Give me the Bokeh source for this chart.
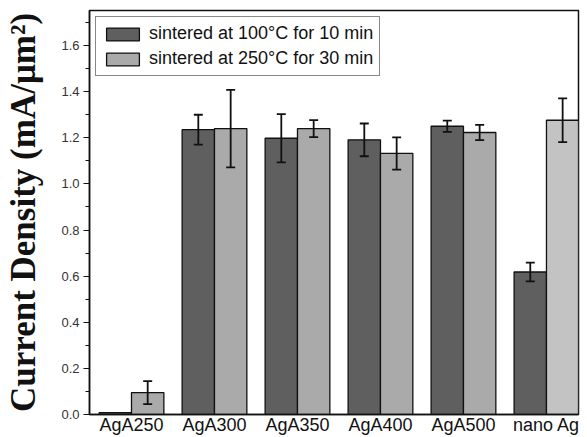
import numpy as np
from bokeh.plotting import figure
from bokeh.models import (ColumnDataSource, Range1d, FixedTicker, Whisker,
                          TeeHead, Legend, LegendItem)
from bokeh.embed import file_html
from bokeh.resources import INLINE

# ---- data ----
categories = ["AgA250", "AgA300", "AgA350", "AgA400", "AgA500", "nano Ag"]
density_100C = [0.008, 1.235, 1.198, 1.191, 1.250, 0.618]
err_100C = [0.0, 0.065, 0.105, 0.071, 0.024, 0.041]
density_250C = [0.095, 1.240, 1.240, 1.132, 1.223, 1.276]
err_250C = [0.050, 0.168, 0.037, 0.070, 0.033, 0.095]
series_names = ["sintered at 100°C for 10 min", "sintered at 250°C for 30 min"]
y_major = [0.0, 0.2, 0.4, 0.6, 0.8, 1.0, 1.2, 1.4, 1.6]
y_minor = [0.1, 0.3, 0.5, 0.7, 0.9, 1.1, 1.3, 1.5, 1.7]

# ---- styles ----
DARK = "#5f5f5f"
LIGHT = "#aaaaaa"
LIGHT_LAST = "#c3c3c3"
BAR_W = 0.39
OFF = BAR_W / 2

idx = np.arange(1, len(categories) + 1)
d100 = np.array(density_100C)
e100 = np.array(err_100C)
d250 = np.array(density_250C)
e250 = np.array(err_250C)

light_colors = [LIGHT] * (len(categories) - 1) + [LIGHT_LAST]

src_a = ColumnDataSource(dict(x=idx - OFF, top=d100))
src_b = ColumnDataSource(dict(x=idx + OFF, top=d250, color=light_colors))

p = figure(width=587, height=437, output_backend="svg", toolbar_location=None,
           x_range=Range1d(0.494, 6.386), y_range=Range1d(0, 1.752),
           min_border_left=89, min_border_right=9, min_border_top=10,
           min_border_bottom=23)
p.background_fill_color = "white"
p.border_fill_color = "white"
p.grid.visible = False
p.outline_line_color = "#111111"
p.outline_line_width = 1.5

r_a = p.vbar(x="x", top="top", width=BAR_W, source=src_a, fill_color=DARK,
             line_color="#111111", line_width=1.3)
r_b = p.vbar(x="x", top="top", width=BAR_W, source=src_b, fill_color="color",
             line_color="#111111", line_width=1.3)

# error bars
ma = e100 > 0
err_a = ColumnDataSource(dict(x=(idx - OFF)[ma], lo=(d100 - e100)[ma], hi=(d100 + e100)[ma]))
mb = e250 > 0
err_b = ColumnDataSource(dict(x=(idx + OFF)[mb], lo=(d250 - e250)[mb], hi=(d250 + e250)[mb]))
for s in (err_a, err_b):
    w = Whisker(base="x", lower="lo", upper="hi", source=s, level="overlay",
                line_color="#111111", line_width=1.8,
                upper_head=TeeHead(size=9, line_color="#111111", line_width=1.8),
                lower_head=TeeHead(size=9, line_color="#111111", line_width=1.8))
    p.add_layout(w)

# x axis
p.xaxis.ticker = FixedTicker(ticks=list(idx))
p.xaxis.major_label_overrides = {int(i): c for i, c in zip(idx, categories)}
p.xaxis.major_tick_line_color = None
p.xaxis.minor_tick_line_color = None
p.xaxis.major_tick_in = 0
p.xaxis.major_tick_out = 0
p.xaxis.minor_tick_in = 0
p.xaxis.minor_tick_out = 0
p.xaxis.axis_line_color = "#111111"
p.xaxis.axis_line_width = 1.5
p.xaxis.major_label_text_font = "Liberation Sans"
p.xaxis.major_label_text_font_size = "18px"
p.xaxis.major_label_text_color = "#111111"
p.xaxis.major_label_standoff = 0

# y axis
p.yaxis.ticker = FixedTicker(ticks=y_major, minor_ticks=y_minor)
p.yaxis.major_label_overrides = {t: f"{t:.1f}" for t in y_major}
p.yaxis.axis_line_color = "#111111"
p.yaxis.axis_line_width = 1.5
p.yaxis.major_tick_line_color = "#111111"
p.yaxis.minor_tick_line_color = "#111111"
p.yaxis.major_tick_in = 0
p.yaxis.major_tick_out = 6
p.yaxis.minor_tick_in = 0
p.yaxis.minor_tick_out = 4
p.yaxis.major_label_text_font = "Liberation Sans"
p.yaxis.major_label_text_font_size = "13px"
p.yaxis.major_label_text_color = "#333333"
p.yaxis.major_label_standoff = 4
p.yaxis.axis_label = "Current Density (mA/μm²)"
p.yaxis.axis_label_text_font = "Liberation Serif"
p.yaxis.axis_label_text_font_style = "bold"
p.yaxis.axis_label_text_font_size = "35px"
p.yaxis.axis_label_text_color = "#111111"
p.yaxis.axis_label_standoff = 15

legend = Legend(items=[LegendItem(label=series_names[0], renderers=[r_a]),
                       LegendItem(label=series_names[1], renderers=[r_b])],
                location="top_left", margin=6, padding=6, spacing=4,
                glyph_width=41, glyph_height=16, label_height=18,
                label_standoff=6,
                label_text_font="Liberation Sans", label_text_font_size="18px",
                label_text_color="#111111",
                border_line_color="#111111", border_line_width=1.5,
                background_fill_alpha=1.0)
p.add_layout(legend)

open("out.html", "w").write(file_html(p, INLINE))
